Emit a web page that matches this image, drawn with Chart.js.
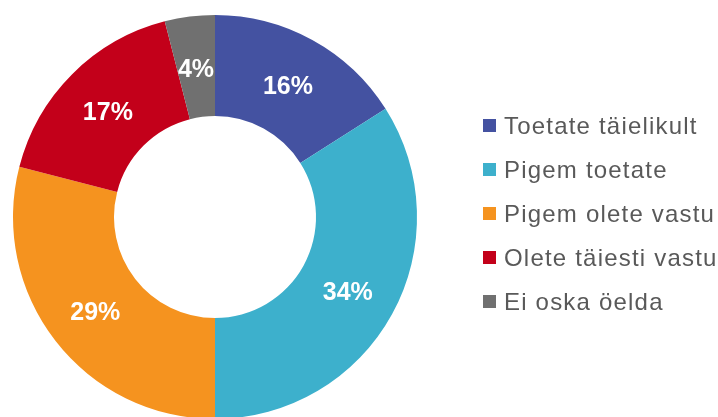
<!DOCTYPE html>
<html>
<head>
<meta charset="utf-8">
<script src="https://cdn.jsdelivr.net/npm/chart.js@4/dist/chart.umd.min.js"></script>
<style>
  html, body { margin: 0; padding: 0; background: #fff; overflow: hidden; }
  #wrap { position: relative; width: 718px; height: 421px; }
  #legend { position: absolute; left: 483px; top: 104px; font-family: "Liberation Sans", Arial, sans-serif; font-size: 24px; color: #595959; letter-spacing: 1.2px; }
  .row { position: relative; height: 44px; white-space: nowrap; }
  .box { position: absolute; left: 0; top: 15px; width: 13px; height: 13px; }
  .txt { position: absolute; left: 21px; top: 0; line-height: 44px; }
</style>
</head>
<body>
<div id="wrap">
  <canvas id="grafico" width="718" height="421"></canvas>
  <div id="legend"></div>
</div>
<script>
// andmed
const kategooriad = ["Toetate täielikult", "Pigem toetate", "Pigem olete vastu", "Olete täiesti vastu", "Ei oska öelda"];
const protsendid = [16, 34, 29, 17, 4];
const varvid = ["#4452A1", "#3DB0CC", "#F5931F", "#C3001A", "#707070"];

// protsendid lõikude peale
const siltPlugin = {
  id: "sildid",
  afterDatasetsDraw(chart) {
    const ctx = chart.ctx;
    const meta = chart.getDatasetMeta(0);
    ctx.save();
    ctx.font = "bold 25px 'Liberation Sans', Arial, sans-serif";
    ctx.fillStyle = "#ffffff";
    ctx.textAlign = "center";
    ctx.textBaseline = "middle";
    meta.data.forEach((arc, i) => {
      const p = arc.tooltipPosition();
      ctx.fillText(protsendid[i] + "%", p.x, p.y + 3);
    });
    ctx.restore();
  }
};

new Chart(document.getElementById("grafico"), {
  type: "doughnut",
  data: {
    labels: kategooriad,
    datasets: [{
      data: protsendid,
      backgroundColor: varvid,
      borderWidth: 0
    }]
  },
  options: {
    responsive: false,
    animation: false,
    cutout: "50%",
    layout: { padding: { left: 13, top: 15, right: 301, bottom: 2 } },
    plugins: {
      legend: { display: false },
      tooltip: { enabled: false }
    }
  },
  plugins: [siltPlugin]
});

// legend paremale
const legend = document.getElementById("legend");
kategooriad.forEach((nimi, i) => {
  const row = document.createElement("div");
  row.className = "row";
  row.innerHTML = `<span class="box" style="background:${varvid[i]}"></span><span class="txt">${nimi}</span>`;
  legend.appendChild(row);
});
</script>
</body>
</html>
